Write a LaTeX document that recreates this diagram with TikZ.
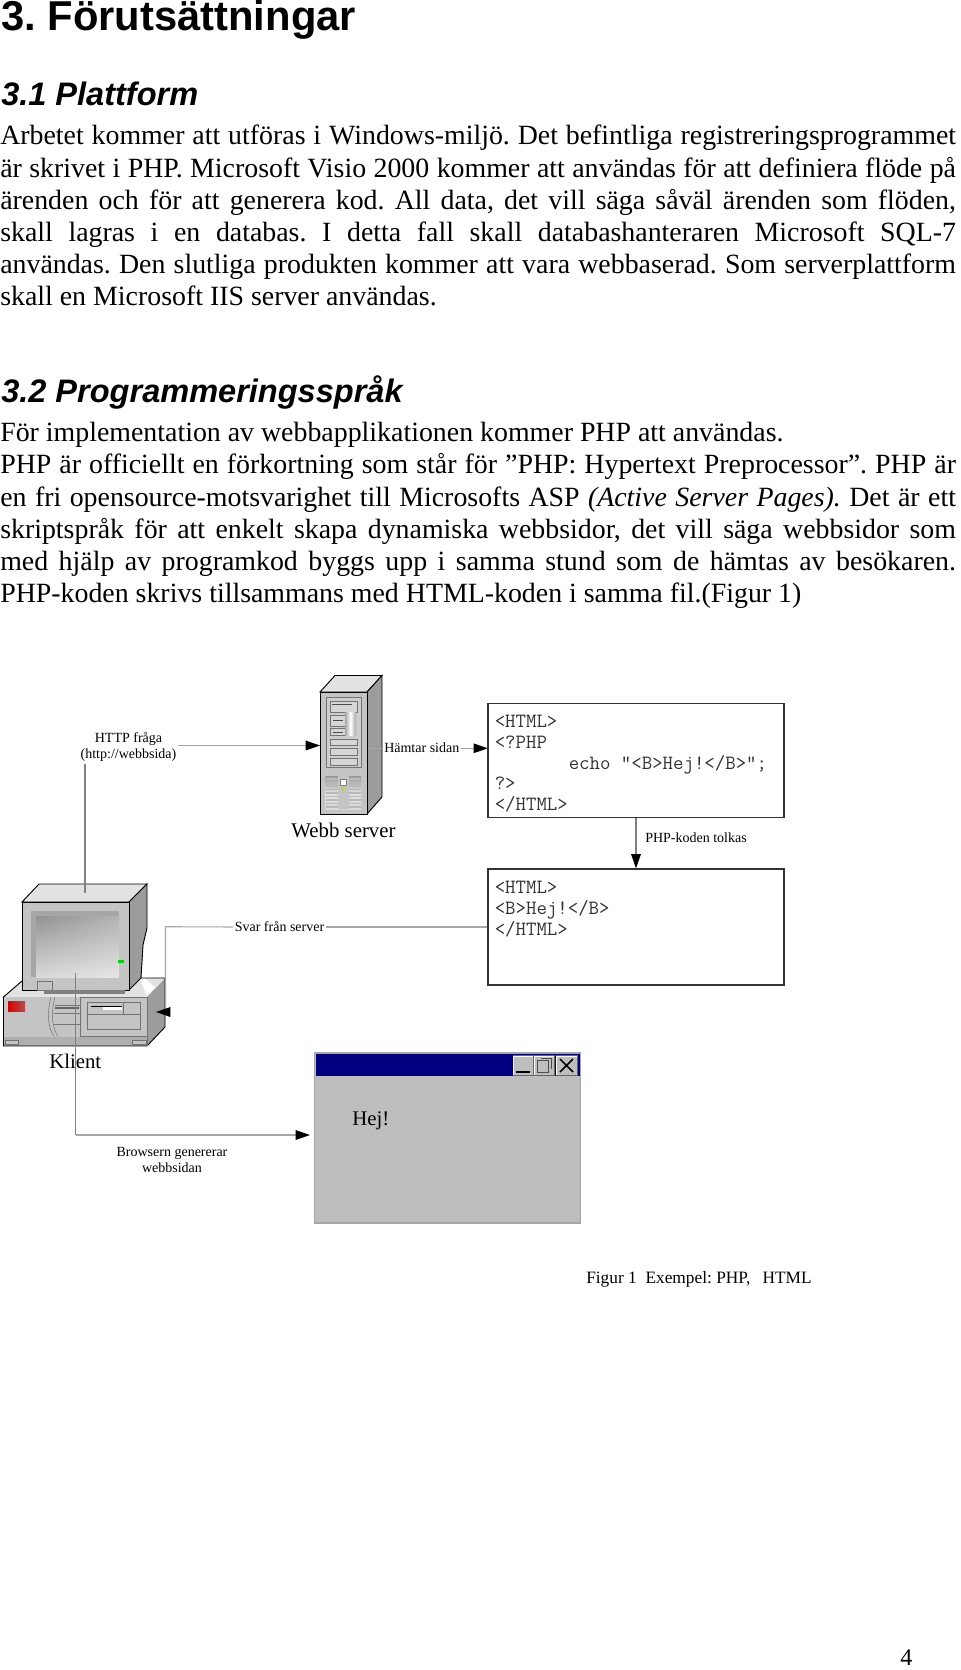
\documentclass[tikz,border=0pt]{standalone}
\usepackage{fontspec}
\setmainfont{Liberation Serif}
\setsansfont{Liberation Sans}
\usetikzlibrary{arrows.meta,calc,shadings}
\definecolor{linegray}{HTML}{A6A6A6}
\definecolor{linedark}{HTML}{808080}
\definecolor{frontgray}{HTML}{C4C4C4}
\definecolor{sidegray}{HTML}{9C9C9C}
\definecolor{topgray}{HTML}{E2E2E2}
\definecolor{wingray}{HTML}{BEBEBE}
\definecolor{navybar}{HTML}{000080}
\tikzset{
  body/.style={anchor=north west,inner sep=0pt,text width=716.8pt,align=justify,
    font=\fontsize{20.9pt}{24.15pt}\selectfont},
  conn/.style={draw=linegray,line width=.8pt},
  conndark/.style={draw=linedark,line width=.8pt},
  tip/.style={-{Triangle[length=10.7pt,width=7.2pt,color=black,fill=black]}},
  codebox/.style={draw=black!80,line width=.9pt,inner sep=0pt,fill=white},
  code/.style={anchor=base west,inner sep=0pt,text=black!80,font=\ttfamily\fontsize{15.2pt}{15pt}\selectfont},
  small/.style={inner sep=0pt,font=\fontsize{10.5pt}{12.6pt}\selectfont,align=center},
  big/.style={anchor=base west,inner sep=0pt,font=\fontsize{15.6pt}{18pt}\selectfont},
  hw/.style={draw=black,line width=.7pt},
  det/.style={draw=black!55,line width=.4pt},
  winbtn/.style={fill=wingray,draw=black!60,line width=.4pt},
}
\begin{document}
\begin{tikzpicture}[x=.75pt,y=-.75pt]
\frenchspacing
\useasboundingbox (0,0) rectangle (960,1670);
\fill[white] (0,0) rectangle (960,1670);
% headings
\node[anchor=base west,inner sep=0pt,font=\sffamily\bfseries\fontsize{31.3pt}{32pt}\selectfont] (h1) at (1,31) {3. Förutsättningar};
\node[anchor=base west,inner sep=0pt,font=\sffamily\bfseries\itshape\fontsize{24.4pt}{28pt}\selectfont] (h2) at (1,105) {3.1 Plattform};
\node[anchor=base west,inner sep=0pt,font=\sffamily\bfseries\itshape\fontsize{24.4pt}{28pt}\selectfont] (h3) at (1,402) {3.2 Programmeringsspråk};
% paragraphs
\node[body] (p1) at (0,125) {\tolerance=9999 \frenchspacing Arbetet kommer att utföras i Windows-miljö. Det befintliga registreringsprogrammet\linebreak är skrivet i PHP. Microsoft Visio 2000 kommer att användas för att definiera flöde på\linebreak ärenden och för att generera kod. All data, det vill säga såväl ärenden som flöden,\linebreak skall lagras i en databas. I detta fall skall databashanteraren Microsoft SQL-7\linebreak användas. Den slutliga produkten kommer att vara webbaserad. Som serverplattform\linebreak skall en Microsoft IIS server användas.};
\node[body] (p2) at (0,422) {\tolerance=9999 \frenchspacing För implementation av webbapplikationen kommer PHP att användas.\\ PHP är officiellt en förkortning som står för ”PHP: Hypertext Preprocessor”. PHP är\linebreak en fri opensource-motsvarighet till Microsofts ASP \textit{(Active Server Pages).} Det är ett\linebreak skriptspråk för att enkelt skapa dynamiska webbsidor, det vill säga webbsidor som\linebreak med hjälp av programkod byggs upp i samma stund som de hämtas av besökaren.\linebreak PHP-koden skrivs tillsammans med HTML-koden i samma fil.(Figur 1)};
% ---------- server
\filldraw[hw,fill=topgray] (320,692) -- (335,675.5) -- (382,675.5) -- (367,692) -- cycle;
\filldraw[hw,fill=sidegray] (367,692) -- (382,675.5) -- (382,797) -- (367,814) -- cycle;
\node[hw,fill=frontgray,inner sep=0pt,minimum width=35.25pt,minimum height=91.5pt] (server) at (343.5,753) {};
\filldraw[det,fill=frontgray!85] (326,697) rectangle (361,767);
\foreach \ya/\yb/\xb in {701/712/357,715/726/345,728/735/345,739/745/357,748/755/357,758/765/357}
  \filldraw[det,fill=frontgray!70!white] (330,\ya) rectangle (\xb,\yb);
\shade[left color=gray!70,right color=gray!70,middle color=white] (345,712) rectangle (356,735);
\draw[black!70,line width=.7pt] (332,704) -- (352,704) (333,720) -- (343,720) (333,732) -- (343,732);
\shade[top color=gray!80,bottom color=gray!30,middle color=gray!25,shading angle=0] (325.7,776) rectangle (361,809);
\foreach \g in {779,782.5,...,807} \draw[gray!55,line width=.8pt] (325.7,\g) -- (340,\g) (347,\g) -- (361,\g);
\fill[frontgray] (338,776) rectangle (349,809);
\filldraw[fill=white,draw=black!50,line width=.3pt] (340,779) rectangle (346,785);
\fill[yellow!70!green] (343,789) circle (1.8);
\node[big,anchor=base] (webb) at (343.5,837) {Webb server};
% ---------- computer case
\fill[sidegray] (147,997) -- (165,978) -- (165,1027) -- (147,1046) -- cycle;
\fill[frontgray] (3.5,997) rectangle (147,1046);
\fill[topgray] (3.5,997) -- (22,981) -- (141,981) -- (147,997) -- cycle;
\fill[topgray] (145,978) -- (165,978) -- (156,988) -- cycle;
\fill[frontgray!70!gray] (3.5,1037) rectangle (147,1046);
\filldraw[det,fill=frontgray] (5,1040) rectangle (18,1044) (132,1040) rectangle (146,1044);
\shade[left color=red!85!black,right color=red!40!gray] (8,1001) rectangle (25,1011);
\draw[det] (51,997) .. controls (46,1015) and (49,1030) .. (54,1036);
\draw[det] (55,997) .. controls (50,1015) and (53,1030) .. (58,1036);
\filldraw[det,fill=frontgray] (80,997) rectangle (147,1036);
\draw[det] (55,1005) -- (80,1005) (54,1013) -- (80,1013) (54,1024) -- (80,1024);
\fill[black!60] (55,1006.5) rectangle (79,1009);
\filldraw[det,fill=frontgray] (87,1002) rectangle (140,1029);
\draw[det] (87,1014) -- (140,1014) (123,1002) -- (123,1014);
\draw[black,line width=.7pt] (91,1006) -- (122,1006);
\fill[white] (103,1007) rectangle (122,1009.5);
\draw[hw] (141,978) -- (165,978) -- (165,1027) -- (147,1046) -- (3.5,1046) -- (3.5,997) -- (22,981);
\draw[det] (147,997) -- (147,1046);
% monitor
\filldraw[hw,fill=topgray] (22,902) -- (39,884) -- (147,884) -- (129,902) -- cycle;
\filldraw[hw,fill=sidegray] (129,902) -- (147,884) -- (147,928) -- (143,945) -- (141,978) -- (129,990) -- cycle;
\node[hw,fill=frontgray,inner sep=0pt,minimum width=80.25pt,minimum height=66pt] (monitor) at (75.5,946) {};
\fill[gray!70] (31,911) rectangle (119,977);
\shade[lower left=gray!30,upper right=gray!60,lower right=gray!20,upper left=gray!85] (36,916) rectangle (119,977);
\fill[green!85!black] (118,959.5) rectangle (124,962.5);
\draw[det] (37,981) rectangle (52,990);
\fill[black!50] (44,990) rectangle (125,994);
\node[big] (klient) at (49,1068.5) {Klient};
% ---------- code boxes
\node[codebox,minimum width=222pt,minimum height=85.2pt] (box1) at (636,760.5) {};
\node[code] (c1) at (494.5,727) {<HTML>};
\node[code] (c2) at (494.5,748) {<?PHP};
\node[code] (c3) at (568.5,769) {echo "<B>Hej!</B>";};
\node[code] (c4) at (494.5,789.5) {?>};
\node[code] (c5) at (494.5,810) {</HTML>};
\node[codebox,minimum width=222pt,minimum height=87pt] (box2) at (636,927) {};
\node[code] (d1) at (494.5,893) {<HTML>};
\node[code] (d2) at (494.5,914) {<B>Hej!</B>};
\node[code] (d3) at (494.5,935) {</HTML>};
% ---------- browser window
\node[inner sep=0pt,fill=wingray,draw=black!35,line width=.9pt,minimum width=199.5pt,minimum height=127.5pt] (win) at (447.8,1138) {};
\fill[navybar] (316,1053.5) rectangle (579.5,1076);
\foreach \xa/\xb in {513/533,534/554,556/577}{
  \filldraw[winbtn] (\xa,1055.5) rectangle (\xb,1075);
  \draw[white,line width=.5pt] (\xa+.5,1074.5) -- (\xa+.5,1056) -- (\xb-.5,1056);
}
\draw[black,line width=1pt] (516,1072) -- (530,1072);
\draw[black!70,line width=.6pt] (537,1060) rectangle (548,1072);
\draw[black!70,line width=.6pt] (541,1058) -- (551,1058) -- (551,1069);
\draw[black,line width=1.1pt] (560,1059) -- (573,1072) (573,1059) -- (560,1072);
\node[big] (hej) at (352,1125) {Hej!};
% ---------- labels
\node[small] (http) at (128.5,747) {HTTP fråga\\(http://webbsida)};
\node[small,anchor=base west] (hamtar) at (384,752.6) {Hämtar sidan};
\node[small,anchor=base west] (php) at (645,842) {PHP-koden tolkas};
\node[small,anchor=base] (svar) at (279.5,931) {Svar från server};
\node[small] (brow) at (172,1160) {Browsern genererar\\webbsidan};
\node[anchor=base west,inner sep=0pt,font=\fontsize{13pt}{15pt}\selectfont] (cap) at (586,1283) {Figur 1\hspace{.25em} Exempel: PHP,\hspace{.7em}HTML};
\node[anchor=base west,inner sep=0pt,font=\fontsize{18pt}{20pt}\selectfont] (pg) at (900,1665) {4};
% ---------- connectors
\coordinate (httpfoot) at (85,893);
\coordinate (httpup) at (85,764);
\coordinate (httpout) at (178,745.5);
\coordinate (srvout) at (368,748.3);
\coordinate (hamout) at (461,748.3);
\coordinate (srvpin) at (320,745.5);
\coordinate (box1pin) at (487.8,748.3);
\coordinate (pcfoot) at (75.5,973);
\coordinate (wincorner) at (75.5,1135);
\coordinate (winpin) at (310,1135);
\coordinate (pcpin) at (156,1012);
\coordinate (pcbend) at (165.5,1012);
\coordinate (svarbend) at (165.5,926.7);
\draw[conndark] (httpfoot) -- (httpup);
\draw[conn,tip] (httpout) -- (srvpin);
\draw[conn] (srvout) -- (382,748.3);
\draw[conn,tip] (hamout) -- (box1pin);
\draw[conndark,tip] (box1.south) -- (box2.north);
\draw[conn] (box2.west) -- (326,927);
\draw[conn] (233,927) -- (svarbend) -- (pcbend);
\draw[conn,tip] (pcbend) -- (pcpin);
\draw[conndark] (pcfoot) -- (wincorner);
\draw[conn,tip] (wincorner) -- (winpin);
\end{tikzpicture}
\end{document}
